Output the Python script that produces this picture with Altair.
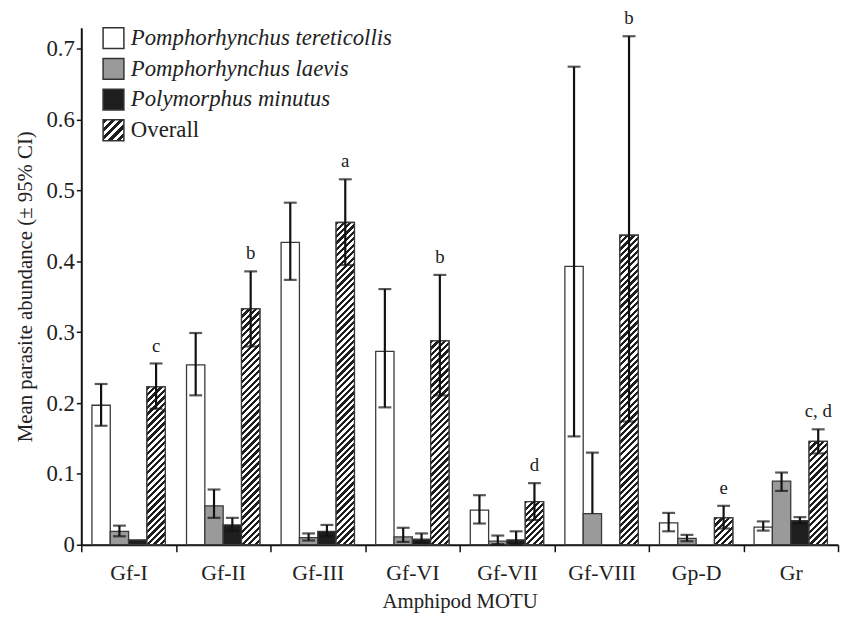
import math
import altair as alt

groups = ["Gf-I", "Gf-II", "Gf-III", "Gf-VI", "Gf-VII", "Gf-VIII", "Gp-D", "Gr"]
series = ["Pomphorhynchus tereticollis", "Pomphorhynchus laevis", "Polymorphus minutus", "Overall"]

pt_mean = [0.197, 0.254, 0.427, 0.273, 0.049, 0.393, 0.031, 0.025]
pt_lo = [0.168, 0.211, 0.374, 0.194, 0.030, 0.153, 0.019, 0.020]
pt_hi = [0.227, 0.299, 0.483, 0.361, 0.070, 0.675, 0.045, 0.033]

pl_mean = [0.019, 0.055, 0.010, 0.011, 0.005, 0.044, 0.009, 0.090]
pl_lo = [0.012, 0.038, 0.006, 0.004, 0.001, 0.044, 0.005, 0.076]
pl_hi = [0.027, 0.078, 0.016, 0.024, 0.013, 0.130, 0.014, 0.102]

pm_mean = [0.007, 0.028, 0.019, 0.008, 0.007, None, None, 0.034]
pm_lo = [None, 0.020, 0.012, 0.003, 0.001, None, None, 0.030]
pm_hi = [None, 0.038, 0.028, 0.016, 0.019, None, None, 0.039]

ov_mean = [0.223, 0.333, 0.455, 0.288, 0.061, 0.437, 0.038, 0.146]
ov_lo = [0.192, 0.280, 0.395, 0.211, 0.035, 0.174, 0.023, 0.129]
ov_hi = [0.256, 0.386, 0.516, 0.381, 0.087, 0.718, 0.055, 0.163]

letters = ["c", "b", "a", "b", "d", "b", "e", "c, d"]

colors = ["#ffffff", "#9a9a9a", "#1e1e1e", "#ffffff"]

# layout
Y_MAX = 0.73
PLOT_H = 522
STEP = 95.5
PLOT_W = STEP * len(groups)
OFF_PAD = 0.58
BAR_W = STEP / (len(series) + 2 * OFF_PAD)
PERIOD = 4.6
INK = "#1e1e1e"
FONT = "Liberation Serif"


def hatch(value):
    w = BAR_W
    h = max(value * PLOT_H / Y_MAX, 1.0)
    s = (w + h) / (w * w + h * h)
    n = max(1, int(round((w + h) / (math.sqrt(2) * PERIOD))))
    stops = []
    for i in range(n):
        a, b, c = i / n, (i + 0.5) / n, (i + 1) / n
        stops += [
            {"offset": a, "color": INK},
            {"offset": b, "color": INK},
            {"offset": b, "color": "#ffffff"},
            {"offset": c, "color": "#ffffff"},
        ]
    return {"gradient": "linear", "x1": 0, "y1": 0, "x2": s * w, "y2": s * h, "stops": stops}


# legend hatch expression (square symbol)
leg_n = 5
leg_stops = []
for i in range(leg_n):
    a, b, c = i / leg_n, (i + 0.5) / leg_n, (i + 1) / leg_n
    leg_stops += [
        "{offset:%g,color:'%s'}" % (a, INK),
        "{offset:%g,color:'%s'}" % (b, INK),
        "{offset:%g,color:'#ffffff'}" % b,
        "{offset:%g,color:'#ffffff'}" % c,
    ]
leg_expr = "{gradient:'linear',x1:0,y1:0,x2:1,y2:1,stops:[" + ",".join(leg_stops) + "]}"

means = [pt_mean, pl_mean, pm_mean, ov_mean]
los = [pt_lo, pl_lo, pm_lo, ov_lo]
his = [pt_hi, pl_hi, pm_hi, ov_hi]

bar_rows, hatch_rows, err_rows, lowcap_rows, letter_rows = [], [], [], [], []
for si, sname in enumerate(series):
    for gi, g in enumerate(groups):
        m = means[si][gi]
        if m is None:
            continue
        bar_rows.append({"group": g, "series": sname, "mean": m})
        if sname == "Overall":
            hatch_rows.append({"group": g, "series": sname, "mean": m, "hatch": hatch(m)})
        lo, hi = los[si][gi], his[si][gi]
        if hi is not None:
            err_rows.append({"group": g, "series": sname, "lo": lo, "hi": hi})
            if lo < m:
                lowcap_rows.append({"group": g, "series": sname, "lo": lo})
for gi, g in enumerate(groups):
    letter_rows.append({"group": g, "series": "Overall", "hi": ov_hi[gi], "letter": letters[gi]})

x_enc = alt.X("group:N", scale=alt.Scale(domain=groups, paddingInner=0, paddingOuter=0),
              axis=alt.Axis(title="Amphipod MOTU", labelAngle=0, tickBand="extent"))
xo_enc = alt.XOffset("series:N", scale=alt.Scale(domain=series, paddingInner=0, paddingOuter=OFF_PAD))
y_scale = alt.Scale(domain=[0, Y_MAX], nice=False, zero=True)

bars = alt.Chart(alt.Data(values=bar_rows)).mark_bar(stroke="#3a3a3a", strokeWidth=1.3).encode(
    x=x_enc,
    xOffset=xo_enc,
    y=alt.Y("mean:Q", scale=y_scale, stack=None,
            axis=alt.Axis(title="Mean parasite abundance (± 95% CI)",
                          values=[0, 0.1, 0.2, 0.3, 0.4, 0.5, 0.6, 0.7],
                          labelFontSize=23,
                          labelExpr="datum.value == 0 ? '0' : format(datum.value, '.1f')")),
    fill=alt.Fill("series:N",
                  scale=alt.Scale(domain=series, range=colors[:3] + [{"expr": leg_expr}]),
                  legend=alt.Legend(title=None, orient="none", legendX=21, legendY=-1,
                                    symbolType="square", symbolSize=441,
                                    symbolStrokeColor="#333333", symbolStrokeWidth=1.5,
                                    labelFont=FONT, labelFontSize=23, labelColor="#222222",
                                    labelFontStyle={"expr": "datum.label == 'Overall' ? 'normal' : 'italic'"},
                                    labelOffset=6, rowPadding=4, padding=0, labelLimit=400)),
)

hatched = alt.Chart(alt.Data(values=hatch_rows)).mark_bar(stroke="#3a3a3a", strokeWidth=1.3).encode(
    x=x_enc,
    xOffset=xo_enc,
    y=alt.Y("mean:Q", scale=y_scale, stack=None),
    color=alt.Color("hatch:N", scale=None),
)

rules = alt.Chart(alt.Data(values=err_rows)).mark_rule(color="#111111", strokeWidth=2.2).encode(
    x=x_enc, xOffset=xo_enc,
    y=alt.Y("lo:Q", scale=y_scale), y2="hi:Q",
)
hicaps = alt.Chart(alt.Data(values=err_rows)).mark_tick(color="#111111", thickness=2.2, size=13, orient="horizontal").encode(
    x=x_enc, xOffset=xo_enc, y=alt.Y("hi:Q", scale=y_scale),
)
locaps = alt.Chart(alt.Data(values=lowcap_rows)).mark_tick(color="#111111", thickness=2.2, size=13, orient="horizontal").encode(
    x=x_enc, xOffset=xo_enc, y=alt.Y("lo:Q", scale=y_scale),
)
labels = alt.Chart(alt.Data(values=letter_rows)).mark_text(
    font=FONT, fontSize=19, color="#222222", baseline="bottom", dy=-8).encode(
    x=x_enc, xOffset=xo_enc, y=alt.Y("hi:Q", scale=y_scale), text="letter:N",
)

chart = alt.layer(bars, hatched, rules, hicaps, locaps, labels).properties(
    width=PLOT_W, height=PLOT_H,
    autosize=alt.AutoSizeParams(type="none"),
    padding={"left": 74, "top": 17, "right": 2, "bottom": 70},
).configure_view(stroke=None).configure_axis(
    grid=False, domainColor="#111111", domainWidth=2, tickColor="#111111", tickWidth=1.5,
    labelFont=FONT, labelFontSize=22, labelColor="#222222",
    titleFont=FONT, titleFontSize=21, titleFontWeight="normal", titleColor="#222222",
).configure_axisY(tickSize=5, labelPadding=2, titlePadding=11).configure_axisX(
    tickSize=7, labelPadding=11, titlePadding=7)

chart.save("out.html", embed_options={"renderer": "svg", "actions": False})
